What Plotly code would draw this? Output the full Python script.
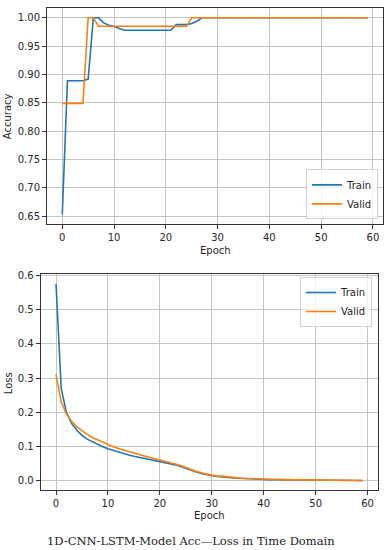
import plotly.graph_objects as go

W, H = 389, 550

epochs = list(range(60))

train_acc = [0.653, 0.889, 0.889, 0.889, 0.889, 0.892, 1.000, 1.000, 0.991, 0.987,
             0.985, 0.981, 0.978, 0.978, 0.978, 0.978, 0.978, 0.978, 0.978, 0.978,
             0.978, 0.978, 0.988, 0.988, 0.988, 0.990, 0.994, 1.000] + [1.000] * 32
valid_acc = [0.849, 0.849, 0.849, 0.849, 0.849, 1.000, 1.000, 0.985, 0.985, 0.985,
             0.985, 0.985, 0.985, 0.985, 0.985, 0.985, 0.985, 0.985, 0.985, 0.985,
             0.985, 0.985, 0.985, 0.985, 0.985, 1.000] + [1.000] * 34

train_loss = [0.575, 0.270, 0.200, 0.168, 0.148, 0.133, 0.122, 0.114, 0.107, 0.100,
              0.094, 0.089, 0.084, 0.080, 0.076, 0.072, 0.069, 0.066, 0.062, 0.059,
              0.057, 0.054, 0.050, 0.047, 0.042, 0.036, 0.031, 0.026, 0.022, 0.018,
              0.015, 0.013, 0.011, 0.010, 0.009, 0.008, 0.007, 0.006, 0.0055, 0.005,
              0.0045, 0.004, 0.0038, 0.0035, 0.0032, 0.003, 0.0028, 0.0026, 0.0024, 0.0022,
              0.002, 0.0019, 0.0018, 0.0017, 0.0016, 0.0015, 0.0014, 0.0013, 0.0012, 0.0011]
valid_loss = [0.311, 0.230, 0.196, 0.174, 0.158, 0.146, 0.136, 0.127, 0.120, 0.112,
              0.106, 0.100, 0.095, 0.090, 0.085, 0.081, 0.077, 0.073, 0.069, 0.065,
              0.061, 0.058, 0.054, 0.050, 0.045, 0.039, 0.033, 0.028, 0.024, 0.020,
              0.017, 0.015, 0.013, 0.012, 0.010, 0.009, 0.008, 0.007, 0.0062, 0.0055,
              0.005, 0.0046, 0.0042, 0.0039, 0.0036, 0.0033, 0.003, 0.0028, 0.0026, 0.0024,
              0.0022, 0.002, 0.0019, 0.0018, 0.0017, 0.0016, 0.0015, 0.0014, 0.0013, 0.0012]

x_ticks = [0, 10, 20, 30, 40, 50, 60]
acc_ticks = [0.65, 0.70, 0.75, 0.80, 0.85, 0.90, 0.95, 1.00]
loss_ticks = [0.0, 0.1, 0.2, 0.3, 0.4, 0.5, 0.6]

BLUE = "#1f77b4"
ORANGE = "#ff7f0e"
FONT = "DejaVu Sans"
TXT = "#262626"


def px_x(p):
    return p / W


def px_y(p):
    return 1 - p / H


fig = go.Figure()
fig.add_trace(go.Scatter(x=epochs, y=train_acc, mode="lines", name="Train",
                         line=dict(color=BLUE, width=1.6), xaxis="x", yaxis="y", legend="legend"))
fig.add_trace(go.Scatter(x=epochs, y=valid_acc, mode="lines", name="Valid",
                         line=dict(color=ORANGE, width=1.6), xaxis="x", yaxis="y", legend="legend"))
fig.add_trace(go.Scatter(x=epochs, y=train_loss, mode="lines", name="Train",
                         line=dict(color=BLUE, width=1.6), xaxis="x2", yaxis="y2", legend="legend2"))
fig.add_trace(go.Scatter(x=epochs, y=valid_loss, mode="lines", name="Valid",
                         line=dict(color=ORANGE, width=1.6), xaxis="x2", yaxis="y2", legend="legend2"))

axis_common = dict(showline=True, mirror=True, linecolor="#333333", linewidth=1,
                   showgrid=True, gridcolor="#c4c4c4", gridwidth=1, zeroline=False,
                   ticks="outside", ticklen=4, tickcolor="#333333",
                   tickfont=dict(family=FONT, size=10, color=TXT))

xr = [-2.95, 61.95]
acc_min, acc_max = min(train_acc + valid_acc), max(train_acc + valid_acc)
am = (acc_max - acc_min) * 0.05
loss_min, loss_max = min(train_loss + valid_loss), max(train_loss + valid_loss)
lm = (loss_max - loss_min) * 0.05

fig.update_layout(
    width=W, height=H,
    margin=dict(l=0, r=0, t=0, b=0),
    paper_bgcolor="white", plot_bgcolor="white",
    showlegend=True,
    xaxis=dict(domain=[px_x(47), px_x(383)], anchor="y", range=xr, tickvals=x_ticks, **axis_common),
    yaxis=dict(domain=[px_y(222), px_y(4)], anchor="x", range=[acc_min - am, acc_max + am],
               tickvals=acc_ticks, tickformat=".2f", **axis_common),
    xaxis2=dict(domain=[px_x(40.7), px_x(377.7)], anchor="y2", range=xr, tickvals=x_ticks, **axis_common),
    yaxis2=dict(domain=[px_y(490), px_y(272)], anchor="x2", range=[loss_min - lm, loss_max + lm],
                tickvals=loss_ticks, tickformat=".1f", **axis_common),
    legend=dict(x=px_x(378), y=px_y(217), xanchor="right", yanchor="bottom",
                bgcolor="rgba(255,255,255,0.8)", bordercolor="#d0d0d0", borderwidth=1,
                font=dict(family=FONT, size=10, color=TXT), tracegroupgap=0, itemwidth=30),
    legend2=dict(x=px_x(372), y=px_y(275), xanchor="right", yanchor="top",
                 bgcolor="rgba(255,255,255,0.8)", bordercolor="#d0d0d0", borderwidth=1,
                 font=dict(family=FONT, size=10, color=TXT), tracegroupgap=0, itemwidth=30),
)

ann_font = dict(family=FONT, size=10, color=TXT)
fig.add_annotation(text="Epoch", x=px_x(215), y=px_y(248), xref="paper", yref="paper",
                   showarrow=False, font=ann_font, xanchor="center", yanchor="middle")
fig.add_annotation(text="Accuracy", x=px_x(7), y=px_y(113), xref="paper", yref="paper",
                   showarrow=False, font=ann_font, textangle=-90, xanchor="center", yanchor="middle")
fig.add_annotation(text="Epoch", x=px_x(209), y=px_y(515), xref="paper", yref="paper",
                   showarrow=False, font=ann_font, xanchor="center", yanchor="middle")
fig.add_annotation(text="Loss", x=px_x(8), y=px_y(382), xref="paper", yref="paper",
                   showarrow=False, font=ann_font, textangle=-90, xanchor="center", yanchor="middle")
fig.add_annotation(text="1D-CNN-LSTM-Model Acc—Loss in Time Domain", x=px_x(191), y=px_y(541),
                   xref="paper", yref="paper", showarrow=False,
                   font=dict(family="DejaVu Serif", size=11.5, color="#222222"),
                   xanchor="center", yanchor="middle")

fig.write_html("out.html", config={"displayModeBar": False},
               post_script="document.body.style.margin='0';document.body.style.overflow='hidden';")
